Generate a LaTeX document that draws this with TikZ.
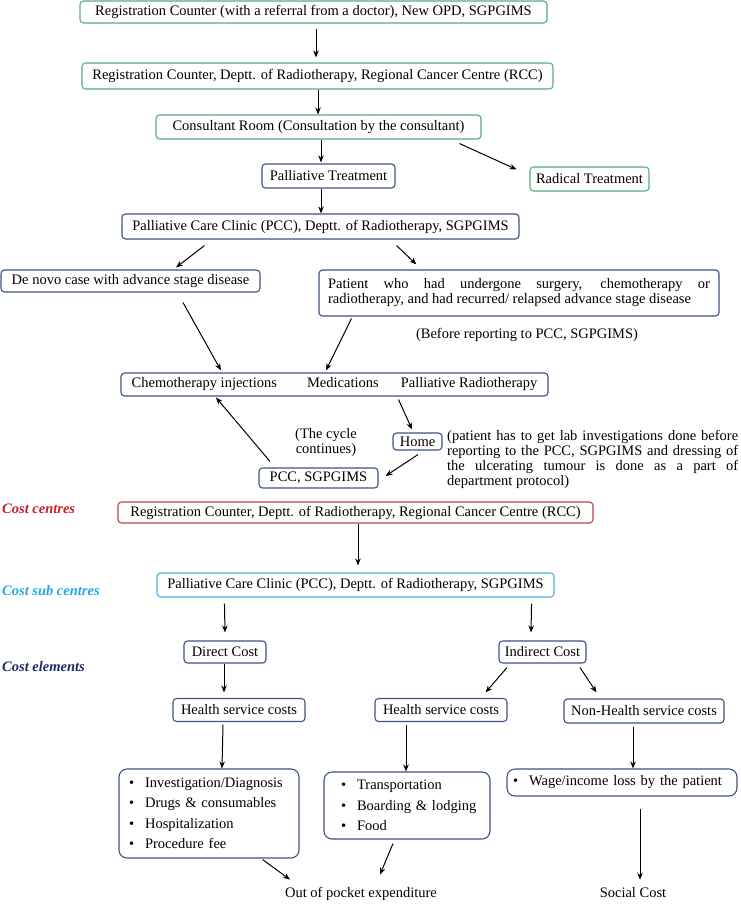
\documentclass[tikz,border=0pt]{standalone}
\usepackage{fontspec}
\setmainfont{Liberation Serif}
\usetikzlibrary{arrows.meta}
\definecolor{boxgreen}{RGB}{88,172,122}
\definecolor{boxblue}{RGB}{62,82,140}
\definecolor{boxred}{RGB}{192,64,64}
\definecolor{boxcyan}{RGB}{72,178,226}
\definecolor{lblred}{RGB}{198,28,36}
\definecolor{lblcyan}{RGB}{36,168,228}
\definecolor{lblnavy}{RGB}{30,40,104}
\newcommand{\bul}{\textbullet\hspace{11pt}}

\begin{document}
\begin{tikzpicture}[x=1pt,y=-1pt,
  every node/.style={font=\fontsize{14.5pt}{15pt}\selectfont},
  box/.style={draw, line width=1.1pt, rounded corners=3.5pt, inner sep=0pt, align=center},
  gbox/.style={box, draw=boxgreen},
  bbox/.style={box, draw=boxblue},
  rbox/.style={box, draw=boxred},
  cbox/.style={box, draw=boxcyan},
  listbox/.style={bbox, rounded corners=8pt, align=left, inner ysep=0pt},
  plain/.style={inner sep=0pt},
  sidelabel/.style={anchor=west, inner sep=0pt, font=\fontsize{14.5pt}{15pt}\selectfont\bfseries\itshape},
  arr/.style={-{Stealth[length=7pt,width=5.5pt]}, line width=1pt}]
            \useasboundingbox (0,0) rectangle (740,904);
            \node[gbox, minimum width=467pt, minimum height=22pt] (regopd) at (313.5,12) {Registration Counter (with a referral from a doctor), New OPD, SGPGIMS};
            \node[gbox, minimum width=471pt, minimum height=26pt] (regrcc) at (317.5,76) {Registration Counter, Deptt. of Radiotherapy, Regional Cancer Centre (RCC)};
            \node[gbox, minimum width=325pt, minimum height=24pt] (consult) at (318.5,127) {Consultant Room (Consultation by the consultant)};
            \node[bbox, minimum width=133pt, minimum height=24pt] (palliative) at (328.5,176) {Palliative Treatment};
            \node[gbox, minimum width=119pt, minimum height=24pt] (radical) at (589.5,179) {Radical Treatment};
            \node[bbox, minimum width=397pt, minimum height=25pt] (pcc) at (320.5,226.5) {Palliative Care Clinic (PCC), Deptt. of Radiotherapy, SGPGIMS};
            \node[bbox, minimum width=259pt, minimum height=22pt] (denovo) at (130.5,281) {De novo case with advance stage disease};
            \node[bbox, text width=382pt, inner xsep=9pt, minimum height=46pt, align=justify] (relapsed) at (519,293) {Patient who had undergone surgery, chemotherapy or\linebreak radiotherapy, and had recurred/ relapsed advance stage disease};
            \node[plain] (before) at (527,335) {(Before reporting to PCC, SGPGIMS)};
            \node[bbox, minimum width=427pt, minimum height=23pt] (treat) at (334.5,384.5) {Chemotherapy injections\hspace{30pt}Medications\hspace{22pt}Palliative Radiotherapy};
            \node[plain, align=center] (cycle) at (326,442.5) {(The cycle\\continues)};
            \node[bbox, minimum width=49pt, minimum height=17pt] (home) at (417.5,441.5) {Home};
            \node[plain, anchor=north west, text width=291pt, align=justify] (homenote) at (447,430.5) {(patient has to get lab investigations done before\linebreak reporting to the PCC, SGPGIMS and dressing of\linebreak the ulcerating tumour is done as a part of\linebreak department protocol)};
            \node[bbox, minimum width=119pt, minimum height=20pt] (pccagain) at (318.5,478) {PCC, SGPGIMS};
            \node[sidelabel, text=lblred] (centres) at (2,509) {Cost centres};
            \node[rbox, minimum width=475pt, minimum height=21pt] (costrcc) at (355.5,512.5) {Registration Counter, Deptt. of Radiotherapy, Regional Cancer Centre (RCC)};
            \node[sidelabel, text=lblcyan] (subcentres) at (2,591) {Cost sub centres};
            \node[cbox, minimum width=397pt, minimum height=24pt] (costpcc) at (355.5,585) {Palliative Care Clinic (PCC), Deptt. of Radiotherapy, SGPGIMS};
            \node[sidelabel, text=lblnavy] (elements) at (2,667) {Cost elements};
            \node[bbox, minimum width=82pt, minimum height=22pt] (direct) at (225,652) {Direct Cost};
            \node[bbox, minimum width=87pt, minimum height=22pt] (indirect) at (542.5,652) {Indirect Cost};
            \node[bbox, minimum width=132pt, minimum height=23pt] (healthd) at (239,710) {Health service costs};
            \node[bbox, minimum width=132pt, minimum height=23pt] (healthi) at (441,710) {Health service costs};
            \node[bbox, minimum width=160pt, minimum height=24pt] (nonhealth) at (644,711) {Non-Health service costs};
            \node[listbox, text width=160pt, inner xsep=10pt, minimum height=89pt] (directlist) at (209,813.5) {\bul Investigation/Diagnosis\\[5.5pt]\bul Drugs \& consumables\\[5.5pt]\bul Hospitalization\\[5.5pt]\bul Procedure fee};
            \node[listbox, text width=150pt, inner xsep=8pt, minimum height=67pt] (indirectlist) at (407,805.5) {\hspace{9pt}\bul Transportation\\[5.5pt]\hspace{9pt}\bul Boarding \& lodging\\[5.5pt]\hspace{9pt}\bul Food};
            \node[listbox, text width=218pt, inner xsep=6pt, minimum height=27pt] (wagelist) at (622,782.5) {\bul Wage/income loss by the patient};
            \node[plain, anchor=base] (pocket) at (361,897) {Out of pocket expenditure};
            \node[plain, anchor=base] (social) at (633,897) {Social Cost};
            \draw[arr] ([shift={(2.5pt,-5pt)}]regopd.south) -- ([shift={(-1.5pt,5pt)}]regrcc.north);
            \draw[arr] ([xshift=0.5pt]regrcc.south) -- ([xshift=-0.5pt]consult.north);
            \draw[arr] ([xshift=2.5pt]consult.south) -- ([shift={(-7.5pt,1pt)}]palliative.north);
            \draw[arr] ([shift={(-22pt,-4pt)}]consult.south east) -- ([shift={(-13pt,-3pt)}]radical.north west);
            \draw[arr] ([xshift=-7.5pt]palliative.south) -- ([xshift=0.5pt]pcc.north);
            \draw[arr] ([shift={(83pt,-6pt)}]pcc.south west) -- ([shift={(45.5pt,2pt)}]denovo.north);
            \draw[arr] ([shift={(-123pt,-6pt)}]pcc.south east) -- ([shift={(98pt,5pt)}]relapsed.north west);
            \draw[arr] ([shift={(52.5pt,-10pt)}]denovo.south) -- ([shift={(-113.5pt,2pt)}]treat.north);
            \draw[arr] ([shift={(33pt,-2pt)}]relapsed.south west) -- ([shift={(-8.5pt,2pt)}]treat.north);
            \draw[arr] ([shift={(-150pt,-3pt)}]treat.south east) -- ([shift={(-5.5pt,3pt)}]home.north);
            \draw[arr] ([shift={(0.5pt,-4pt)}]home.south) -- ([shift={(7pt,2pt)}]pccagain.east);
            \draw[arr] ([shift={(-48.5pt,6pt)}]pccagain.north) -- ([shift={(-118.5pt,-1pt)}]treat.south);
            \draw[arr] ([xshift=2.5pt]costrcc.south) -- ([shift={(2.5pt,7pt)}]costpcc.north);
            \draw[arr] ([shift={(68pt,-6pt)}]costpcc.south west) -- ([yshift=8pt]direct.north);
            \draw[arr] ([shift={(-23pt,-6pt)}]costpcc.south east) -- ([shift={(-11.5pt,8pt)}]indirect.north);
            \draw[arr] ([xshift=-1pt]direct.south) -- ([shift={(-15pt,5.5pt)}]healthd.north);
            \draw[arr] ([shift={(-35.5pt,-4pt)}]indirect.south) -- ([shift={(-22pt,5.5pt)}]healthi.north east);
            \draw[arr] ([shift={(37.5pt,-4pt)}]indirect.south) -- ([shift={(33pt,6pt)}]nonhealth.north west);
            \draw[arr] ([shift={(-16pt,-2.5pt)}]healthd.south) -- ([xshift=13pt]directlist.north);
            \draw[arr] ([shift={(-35pt,-2.5pt)}]healthi.south) -- ([xshift=-1pt]indirectlist.north);
            \draw[arr] ([shift={(-11pt,-3pt)}]nonhealth.south) -- ([xshift=11pt]wagelist.north);
            \draw[arr] ([shift={(-37pt,-1pt)}]directlist.south east) -- ([shift={(-71pt,7pt)}]pocket.north);
            \draw[arr] ([shift={(-14pt,-4pt)}]indirectlist.south) -- ([shift={(19pt,12pt)}]pocket.north);
            \draw[arr] ([shift={(18pt,-12pt)}]wagelist.south) -- ([shift={(7pt,7pt)}]social.north);
\end{tikzpicture}
\end{document}
